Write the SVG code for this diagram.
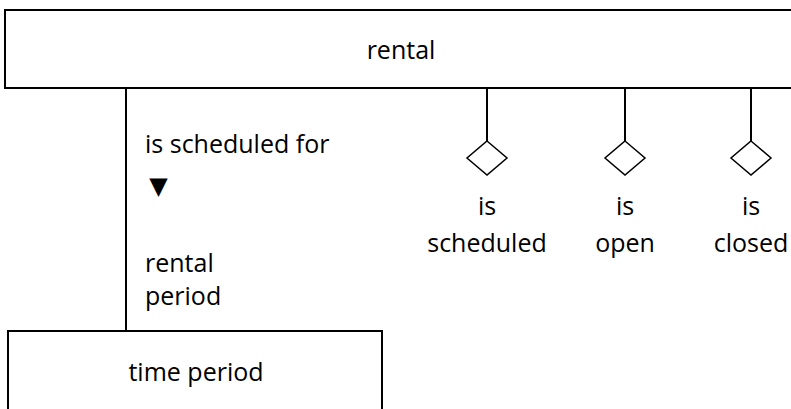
<svg xmlns="http://www.w3.org/2000/svg" width="791" height="409" viewBox="0 0 791 409">
<style>
.box{fill:#fff;stroke:#000;stroke-width:2}
.ln{fill:none;stroke:#000;stroke-width:2}
.dm{fill:#fff;stroke:#000;stroke-width:1.5}
text{font-family:"Open Sans","Liberation Sans",sans-serif;font-size:25px;fill:#000}
.c{text-anchor:middle}
</style>
<rect width="791" height="409" fill="#fff"/>
<g id="connectors">
<line class="ln" x1="126" y1="88" x2="126" y2="331"/>
<line class="ln" x1="487" y1="88" x2="487" y2="141"/>
<line class="ln" x1="625" y1="88" x2="625" y2="141"/>
<line class="ln" x1="751" y1="88" x2="751" y2="141"/>
<text x="145" y="153">is scheduled for</text>
<text x="158.5" y="194" class="c" style="font-family:'DejaVu Sans',sans-serif;font-size:24px">▼</text>
<text x="145" y="272">rental</text>
<text x="145" y="305">period</text>
</g>
<g id="rental">
<rect class="box" x="5" y="10" width="800" height="78"/>
<text x="401" y="59" class="c">rental</text>
</g>
<g id="time-period">
<rect class="box" x="8" y="331" width="374" height="100"/>
<text x="196" y="381" class="c">time period</text>
</g>
<g id="is-scheduled">
<polygon class="dm" points="487,141 507,158 487,175 467,158"/>
<text x="487" y="215" class="c">is</text>
<text x="487" y="252" class="c">scheduled</text>
</g>
<g id="is-open">
<polygon class="dm" points="625,141 645,158 625,175 605,158"/>
<text x="625" y="215" class="c">is</text>
<text x="625" y="252" class="c">open</text>
</g>
<g id="is-closed">
<polygon class="dm" points="751,141 771,158 751,175 731,158"/>
<text x="751" y="215" class="c">is</text>
<text x="751" y="252" class="c">closed</text>
</g>
</svg>
